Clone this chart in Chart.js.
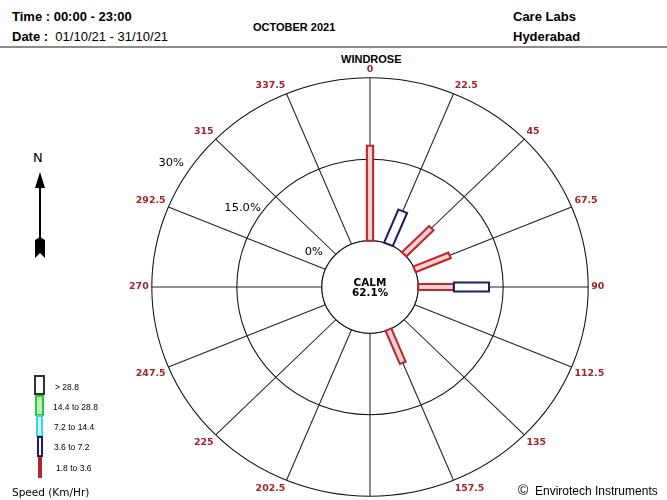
<!DOCTYPE html>
<html>
<head>
<meta charset="utf-8">
<script src="https://cdn.jsdelivr.net/npm/chart.js@4.4.1/dist/chart.umd.min.js"></script>
<style>
  body { margin: 0; width: 667px; height: 500px; overflow: hidden; background: #fff; position: relative; font-family: "Liberation Sans", Arial, sans-serif; color: #000; }
  .t { position: absolute; white-space: nowrap; line-height: 16px; }
  .hdr { font-size: 13px; font-weight: bold; }
  .rule { position: absolute; left: 0; top: 46px; width: 667px; height: 2px; background: #8c8c8c; }
  #wrap { position: absolute; left: 70px; top: 65px; width: 600px; height: 446px; }
  .lg { position: absolute; box-sizing: border-box; }
  .lgt { position: absolute; font-size: 8.5px; line-height: 10px; white-space: nowrap; }
</style>
</head>
<body>
<div class="t hdr" style="left:12px; top:9px;">Time : 00:00 - 23:00</div>
<div class="t hdr" style="left:12px; top:29px;">Date :&nbsp; <span style="font-weight:normal">01/10/21 - 31/10/21</span></div>
<div class="t" style="left:253px; top:19px; font-size:11px; font-weight:bold;">OCTOBER 2021</div>
<div class="t hdr" style="left:513px; top:9px;">Care Labs</div>
<div class="t hdr" style="left:513px; top:29px;">Hyderabad</div>
<div class="rule"></div>
<div class="t" style="left:341px; top:51px; font-size:11px; font-weight:bold;">WINDROSE</div>

<!-- north arrow -->
<div class="t" style="left:33px; top:151px; font-family:'DejaVu Sans'; font-size:13px; line-height:14px;">N</div>
<svg style="position:absolute; left:30px; top:168px;" width="20" height="95">
  <polygon points="10,4 5,20 15,20" fill="#000"/>
  <rect x="9" y="18" width="2" height="54" fill="#000"/>
  <polygon points="5,72 10,69 15,72 15,90 10,85 5,90" fill="#000"/>
</svg>

<div id="wrap"><canvas id="rose"></canvas></div>

<!-- legend -->
<div class="lg" style="left:34px; top:375px; width:11px; height:20px; border:2px solid #333; background:#fff;"></div>
<div class="lg" style="left:35px; top:395px; width:9px; height:21px; border:2px solid #33c433; background:#b9efb9;"></div>
<div class="lg" style="left:36px; top:415px; width:7px; height:22px; border:2px solid #3fd6d6; background:#c9f7f7;"></div>
<div class="lg" style="left:37px; top:436px; width:6px; height:21px; border:2px solid #1c1c6b; background:#fff;"></div>
<div class="lg" style="left:38px; top:457px; width:4px; height:21px; background:#b8222a;"></div>
<div class="lgt" style="left:55px; top:382px;">&gt; 28.8</div>
<div class="lgt" style="left:53px; top:402px;">14.4 to 28.8</div>
<div class="lgt" style="left:54px; top:422px;">7.2 to 14.4</div>
<div class="lgt" style="left:54px; top:442px;">3.6 to 7.2</div>
<div class="lgt" style="left:56px; top:463px;">1.8 to 3.6</div>
<div class="t" style="left:12px; top:484px; font-family:'DejaVu Sans'; font-size:10.5px;">Speed (Km/Hr)</div>

<div class="t" style="left:518px; top:482px; font-size:12px;"><span style="font-size:14px;">&copy;</span>&nbsp; Envirotech Instruments</div>

<script>
const directions = ['0', '22.5', '45', '67.5', '90', '112.5', '135', '157.5',
  '180', '202.5', '225', '247.5', '270', '292.5', '315', '337.5'];

// percent of time per direction for each speed class (Km/Hr)
const speed1_8to3_6 = [17.5, 0, 6.8, 6.7, 6.3, 0, 0, 6.6, 0, 0, 0, 0, 0, 0, 0, 0];
const speed3_6to7_2 = [0, 6.6, 0, 0, 6.2, 0, 0, 0, 0, 0, 0, 0, 0, 0, 0, 0];
const speed7_2to14_4 = [0, 0, 0, 0, 0, 0, 0, 0, 0, 0, 0, 0, 0, 0, 0, 0];
const speed14_4to28_8 = [0, 0, 0, 0, 0, 0, 0, 0, 0, 0, 0, 0, 0, 0, 0, 0];
const speedAbove28_8 = [0, 0, 0, 0, 0, 0, 0, 0, 0, 0, 0, 0, 0, 0, 0, 0];

const ringValues = [0, 15, 30];
const ringLabels = ['0%', '15.0%', '30%'];
const calmPercent = 62.1;

// the original rose is a little wider than tall
const stretchX = 1.043;

const windrose = {
  id: 'windrose',
  beforeDraw(chart) {
    const cx = chart.scales.r.xCenter;
    const ctx = chart.ctx;
    ctx.save();
    ctx.translate(cx, 0);
    ctx.scale(stretchX, 1);
    ctx.translate(-cx, 0);
  },
  afterDraw(chart) {
    chart.ctx.restore();
  },
  beforeDatasetsDraw(chart) {
    const r = chart.scales.r;
    const ctx = chart.ctx;
    const d0 = r.getDistanceFromCenterForValue(0);
    ctx.save();
    ctx.beginPath();
    ctx.arc(r.xCenter, r.yCenter, d0, 0, Math.PI * 2);
    ctx.fillStyle = '#fff';
    ctx.fill();
    ctx.lineWidth = 1;
    ctx.strokeStyle = '#111';
    ctx.stroke();

    ctx.fillStyle = '#000';
    ctx.textAlign = 'center';
    ctx.textBaseline = 'middle';
    ctx.font = 'bold 10px "DejaVu Sans"';
    ctx.fillText('CALM', r.xCenter, r.yCenter - 4);
    ctx.fillText(calmPercent.toFixed(1) + '%', r.xCenter, r.yCenter + 6);

    ctx.font = '11px "DejaVu Sans"';
    const a = 303 * Math.PI / 180;
    ringValues.forEach((v, k) => {
      const dist = r.getDistanceFromCenterForValue(v) + 18;
      ctx.fillText(ringLabels[k], r.xCenter + dist * Math.sin(a), r.yCenter - dist * Math.cos(a));
    });
    ctx.restore();
  },
  afterDatasetsDraw(chart) {
    const r = chart.scales.r;
    const ctx = chart.ctx;
    const base = directions.map(() => 0);
    chart.data.datasets.forEach(ds => {
      ds.data.forEach((v, i) => {
        if (!v) return;
        const p0 = r.getPointPositionForValue(i, base[i]);
        const p1 = r.getPointPositionForValue(i, base[i] + v);
        base[i] += v;
        const len = Math.hypot(p1.x - p0.x, p1.y - p0.y);
        ctx.save();
        ctx.translate(p0.x, p0.y);
        ctx.rotate(Math.atan2(p1.y - p0.y, p1.x - p0.x));
        ctx.fillStyle = ds.barFill;
        ctx.strokeStyle = ds.barStroke;
        ctx.lineWidth = 2;
        ctx.fillRect(0, -ds.barWidth / 2, len, ds.barWidth);
        ctx.strokeRect(0, -ds.barWidth / 2, len, ds.barWidth);
        ctx.restore();
      });
    });
  }
};

function speedSet(label, data, stroke, fill, width) {
  return {
    label: label,
    data: data,
    showLine: false,
    fill: false,
    pointRadius: 0,
    borderWidth: 0,
    barStroke: stroke,
    barFill: fill,
    barWidth: width
  };
}

new Chart(document.getElementById('rose'), {
  type: 'radar',
  data: {
    labels: directions,
    datasets: [
      speedSet('1.8 to 3.6', speed1_8to3_6, '#bf252d', '#f4d2d2', 6),
      speedSet('3.6 to 7.2', speed3_6to7_2, '#1c1c6b', '#ffffff', 9),
      speedSet('7.2 to 14.4', speed7_2to14_4, '#3fd6d6', '#c9f7f7', 10),
      speedSet('14.4 to 28.8', speed14_4to28_8, '#33c433', '#b9efb9', 11),
      speedSet('> 28.8', speedAbove28_8, '#333333', '#ffffff', 12)
    ]
  },
  options: {
    responsive: true,
    maintainAspectRatio: false,
    animation: false,
    plugins: {
      legend: { display: false },
      tooltip: { enabled: false }
    },
    scales: {
      r: {
        min: -8.5,
        max: 30,
        ticks: { display: false, stepSize: 15 },
        grid: { circular: true, color: '#111', lineWidth: 1 },
        angleLines: { color: '#222', lineWidth: 1 },
        pointLabels: {
          color: '#a3242b',
          padding: 3,
          font: { family: 'DejaVu Sans', size: 9, weight: 'bold' }
        }
      }
    }
  },
  plugins: [windrose]
});
</script>
</body>
</html>
